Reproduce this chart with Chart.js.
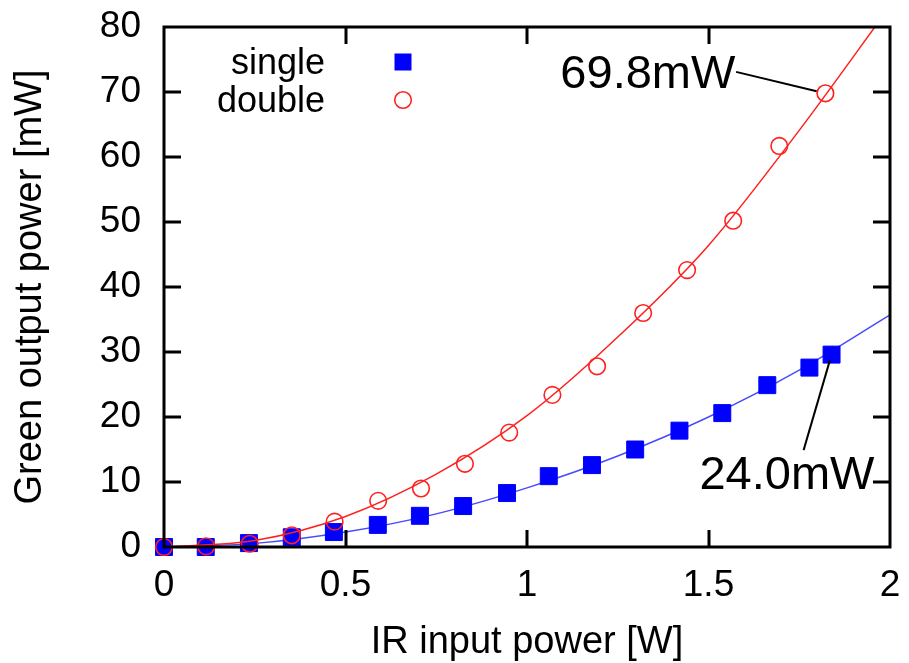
<!DOCTYPE html>
<html>
<head>
<meta charset="utf-8">
<script src="https://cdn.jsdelivr.net/npm/chart.js@4/dist/chart.umd.min.js"></script>
<style>
  html, body { margin: 0; padding: 0; background: #ffffff; }
  canvas { display: block; }
</style>
</head>
<body>
<canvas id="chart" width="909" height="663"></canvas>
<script>
// Measured second-harmonic output versus infrared pump power
const singleX = [0, 0.115, 0.234, 0.352, 0.468, 0.589, 0.705, 0.824, 0.945, 1.060, 1.179, 1.298, 1.420, 1.538, 1.662, 1.778, 1.839];
const singleY = [0, 0, 0.6, 1.5, 2.3, 3.4, 4.8, 6.3, 8.3, 10.9, 12.6, 15.0, 17.9, 20.6, 24.9, 27.6, 29.6];

const doubleX = [0, 0.116, 0.236, 0.352, 0.470, 0.590, 0.708, 0.829, 0.951, 1.070, 1.193, 1.320, 1.441, 1.568, 1.695, 1.822];
const doubleY = [0, 0.1, 0.5, 1.8, 3.9, 7.1, 9.0, 12.8, 17.6, 23.4, 27.8, 36.0, 42.6, 50.2, 61.7, 69.8];

// Fitted curves, sampled along the pump-power axis
const fitX       = [0, 0.25, 0.5, 0.75, 1.0, 1.25, 1.5, 1.75, 2.0];
const singleFitY = [0, 0.55, 2.3, 5.1, 9.1, 14.0, 20.0, 27.2, 35.7];
const doubleFitY = [0, 1.0, 4.7, 11.2, 20.2, 32.3, 46.4, 64.1, 83.2];

const seriesNames = ['single', 'double'];
const xTickLabels = ['0', '0.5', '1', '1.5', '2'];
const yTickLabels = ['0', '10', '20', '30', '40', '50', '60', '70', '80'];
const xTickValues = [0, 0.5, 1, 1.5, 2];
const yTickValues = [0, 10, 20, 30, 40, 50, 60, 70, 80];
const calloutTexts = ['69.8mW', '24.0mW'];

const FONT = "'Liberation Sans', Arial, Helvetica, sans-serif";
const BLUE = '#0000ff';
const RED = '#ff2020';

const toPoints = (xs, ys) => xs.map((x, i) => ({ x: x, y: ys[i] }));

// Callout placement (text anchor and leader start in data units)
const callouts = [
  { text: calloutTexts[0], dataset: 0, textX: 1.574, textY: 72.6, fromX: 1.576, fromY: 73.1, gap: 9 },
  { text: calloutTexts[1], dataset: 2, textX: 1.957, textY: 10.9, fromX: 1.762, fromY: 14.9, gap: 6 }
];

const framePlugin = {
  id: 'frameAndNotes',
  afterDatasetsDraw(chart) {
    const ctx = chart.ctx;
    const a = chart.chartArea;
    const xs = chart.scales.x, ys = chart.scales.y;
    const tick = 17;
    ctx.save();
    ctx.strokeStyle = '#000';
    ctx.lineWidth = 3;
    ctx.lineCap = 'butt';
    ctx.beginPath();
    xTickValues.forEach(v => {
      const px = Math.round(xs.getPixelForValue(v));
      if (px <= a.left + 2 || px >= a.right - 2) return;
      ctx.moveTo(px, a.bottom); ctx.lineTo(px, a.bottom - tick);
      ctx.moveTo(px, a.top); ctx.lineTo(px, a.top + tick);
    });
    yTickValues.forEach(v => {
      const py = Math.round(ys.getPixelForValue(v));
      if (py <= a.top + 2 || py >= a.bottom - 2) return;
      ctx.moveTo(a.left, py); ctx.lineTo(a.left + tick, py);
      ctx.moveTo(a.right, py); ctx.lineTo(a.right - tick, py);
    });
    ctx.stroke();
    ctx.strokeRect(a.left, a.top, a.right - a.left, a.bottom - a.top);

    // Callouts with leader lines
    ctx.fillStyle = '#000';
    ctx.font = '47px ' + FONT;
    ctx.textAlign = 'right';
    ctx.textBaseline = 'middle';
    ctx.lineWidth = 2;
    callouts.forEach(c => {
      const ds = chart.data.datasets[c.dataset].data;
      const target = ds[ds.length - 1];
      const tx = xs.getPixelForValue(target.x), ty = ys.getPixelForValue(target.y);
      const fx = xs.getPixelForValue(c.fromX), fy = ys.getPixelForValue(c.fromY);
      const dx = tx - fx, dy = ty - fy, len = Math.hypot(dx, dy);
      const ex = tx - dx / len * c.gap, ey = ty - dy / len * c.gap;
      ctx.beginPath();
      ctx.moveTo(fx, fy); ctx.lineTo(ex, ey);
      ctx.stroke();
      ctx.fillText(c.text, xs.getPixelForValue(c.textX), ys.getPixelForValue(c.textY));
    });

    // Key in the upper-left corner
    ctx.font = '36px ' + FONT;
    ctx.textAlign = 'right';
    ctx.textBaseline = 'alphabetic';
    const textRight = a.left + 161;
    const markX = a.left + 239;
    const rows = [
      { name: seriesNames[0], base: a.top + 46.5, markY: a.top + 35, kind: 'rect' },
      { name: seriesNames[1], base: a.top + 85, markY: a.top + 73, kind: 'circle' }
    ];
    rows.forEach(r => {
      ctx.fillStyle = '#000';
      ctx.fillText(r.name, textRight, r.base);
      if (r.kind === 'rect') {
        ctx.fillStyle = BLUE;
        ctx.fillRect(markX - 8.5, r.markY - 8.5, 17, 17);
      } else {
        ctx.strokeStyle = RED;
        ctx.lineWidth = 1.6;
        ctx.beginPath();
        ctx.arc(markX, r.markY, 8.3, 0, Math.PI * 2);
        ctx.stroke();
      }
    });
    ctx.restore();
  }
};

new Chart(document.getElementById('chart'), {
  type: 'scatter',
  data: {
    datasets: [
      {
        label: seriesNames[1],
        data: toPoints(doubleX, doubleY),
        pointStyle: 'circle',
        pointRadius: 8.3,
        pointBorderWidth: 1.6,
        pointBorderColor: RED,
        pointBackgroundColor: 'rgba(0,0,0,0)',
        showLine: false,
        clip: false
      },
      {
        label: 'double fit',
        data: toPoints(fitX, doubleFitY),
        showLine: true,
        borderColor: RED,
        borderWidth: 1.5,
        pointRadius: 0,
        cubicInterpolationMode: 'monotone',
        clip: 0
      },
      {
        label: seriesNames[0],
        data: toPoints(singleX, singleY),
        pointStyle: 'rect',
        pointRadius: 12,
        pointBorderWidth: 1,
        pointBorderColor: BLUE,
        pointBackgroundColor: BLUE,
        showLine: false,
        clip: false
      },
      {
        label: 'single fit',
        data: toPoints(fitX, singleFitY),
        showLine: true,
        borderColor: 'rgba(40,40,255,0.85)',
        borderWidth: 1.4,
        pointRadius: 0,
        cubicInterpolationMode: 'monotone',
        clip: 0
      }
    ]
  },
  options: {
    responsive: false,
    animation: false,
    events: [],
    layout: { padding: { left: 0, right: 19, top: 27, bottom: 0 } },
    plugins: {
      legend: { display: false },
      tooltip: { enabled: false }
    },
    scales: {
      x: {
        type: 'linear',
        min: 0,
        max: 2,
        afterBuildTicks: s => { s.ticks = xTickValues.map(v => ({ value: v })); },
        afterFit: s => { s.height = 116; s.paddingLeft = 0; s.paddingRight = 0; },
        grid: { display: false, drawTicks: false },
        border: { display: false },
        ticks: {
          color: '#000',
          padding: 17,
          maxRotation: 0,
          font: { family: FONT, size: 37, lineHeight: 1.2 },
          callback: (v, i) => xTickLabels[i]
        },
        title: {
          display: true,
          text: 'IR input power [W]',
          color: '#000',
          font: { family: FONT, size: 38, lineHeight: 1.0 },
          padding: { top: 0, bottom: 1 }
        }
      },
      y: {
        type: 'linear',
        min: 0,
        max: 80,
        afterBuildTicks: s => { s.ticks = yTickValues.map(v => ({ value: v })); },
        afterFit: s => { s.width = 164; s.paddingTop = 0; s.paddingBottom = 0; },
        grid: { display: false, drawTicks: false },
        border: { display: false },
        ticks: {
          color: '#000',
          padding: 23,
          font: { family: FONT, size: 37, lineHeight: 1.2 },
          callback: (v, i) => yTickLabels[i]
        },
        title: {
          display: true,
          text: 'Green output power [mW]',
          color: '#000',
          font: { family: FONT, size: 38, lineHeight: 1.2 },
          padding: { top: 8, bottom: 0 }
        }
      }
    }
  },
  plugins: [framePlugin]
});
</script>
</body>
</html>
